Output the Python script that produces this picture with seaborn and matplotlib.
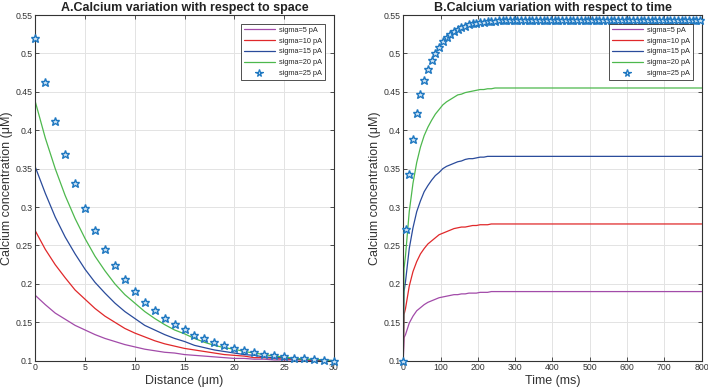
import matplotlib
matplotlib.use("Agg")
import matplotlib.pyplot as plt
import numpy as np
import pandas as pd
import seaborn as sns
from matplotlib.ticker import FuncFormatter, MultipleLocator
from matplotlib.lines import Line2D

# ---------------- data ----------------
labels = ["sigma=5 pA", "sigma=10 pA", "sigma=15 pA", "sigma=20 pA", "sigma=25 pA"]
colors = ["#A24BA9", "#E0282A", "#2A4B9B", "#4DB84D", "#1F78C1"]

# Panel A: calcium vs distance (um)
distance = list(range(0, 31))
space_s5 = [0.185, 0.173, 0.162, 0.154, 0.146, 0.140, 0.134, 0.129, 0.125, 0.121,
            0.118, 0.115, 0.113, 0.111, 0.110, 0.108, 0.107, 0.106, 0.105, 0.104,
            0.103, 0.103, 0.102, 0.102, 0.101, 0.101, 0.101, 0.101, 0.100, 0.100, 0.100]
space_s10 = [0.269, 0.245, 0.225, 0.208, 0.192, 0.180, 0.168, 0.158, 0.150, 0.142,
             0.136, 0.131, 0.126, 0.122, 0.119, 0.116, 0.114, 0.112, 0.110, 0.108,
             0.107, 0.106, 0.104, 0.104, 0.103, 0.102, 0.102, 0.101, 0.101, 0.100, 0.100]
space_s15 = [0.352, 0.318, 0.287, 0.261, 0.239, 0.219, 0.202, 0.188, 0.175, 0.164,
             0.155, 0.146, 0.140, 0.134, 0.129, 0.125, 0.120, 0.117, 0.114, 0.112,
             0.110, 0.108, 0.107, 0.105, 0.104, 0.104, 0.102, 0.102, 0.101, 0.101, 0.100]
space_s20 = [0.437, 0.390, 0.350, 0.315, 0.285, 0.259, 0.236, 0.217, 0.200, 0.186,
             0.175, 0.164, 0.155, 0.147, 0.140, 0.135, 0.129, 0.124, 0.120, 0.117,
             0.115, 0.112, 0.110, 0.108, 0.106, 0.105, 0.103, 0.102, 0.102, 0.101, 0.100]
space_s25 = [0.520, 0.463, 0.412, 0.369, 0.331, 0.299, 0.270, 0.246, 0.225, 0.206,
             0.191, 0.177, 0.166, 0.156, 0.148, 0.141, 0.134, 0.129, 0.124, 0.120,
             0.117, 0.114, 0.111, 0.109, 0.107, 0.106, 0.104, 0.103, 0.102, 0.101, 0.100]

# Panel B: calcium vs time (ms)
time_line = [0, 2, 6, 16, 26, 36, 46, 56, 66, 76, 86, 96, 106, 116, 126, 136, 146,
             156, 166, 176, 186, 196, 206, 216, 226, 236, 246, 256, 800]
time_s5 = [0.100, 0.130, 0.134, 0.149, 0.158, 0.165, 0.169, 0.173, 0.176, 0.178, 0.180,
           0.182, 0.183, 0.184, 0.185, 0.186, 0.186, 0.187, 0.187, 0.188, 0.188,
           0.188, 0.189, 0.189, 0.189, 0.190, 0.190, 0.190, 0.190]
time_s10 = [0.100, 0.160, 0.168, 0.197, 0.216, 0.229, 0.239, 0.246, 0.252, 0.256, 0.260,
            0.264, 0.266, 0.268, 0.270, 0.272, 0.273, 0.274, 0.274, 0.275, 0.276,
            0.276, 0.277, 0.277, 0.277, 0.278, 0.278, 0.278, 0.278]
time_s15 = [0.100, 0.190, 0.203, 0.246, 0.273, 0.294, 0.308, 0.320, 0.328, 0.335, 0.341,
            0.345, 0.350, 0.353, 0.355, 0.357, 0.359, 0.360, 0.362, 0.363, 0.363,
            0.364, 0.365, 0.365, 0.366, 0.366, 0.366, 0.366, 0.366]
time_s20 = [0.100, 0.220, 0.237, 0.294, 0.331, 0.358, 0.378, 0.393, 0.404, 0.413, 0.421,
            0.427, 0.433, 0.437, 0.440, 0.443, 0.446, 0.447, 0.449, 0.450, 0.451,
            0.452, 0.453, 0.453, 0.454, 0.454, 0.455, 0.455, 0.455]
time_star = [0] + list(range(6, 800, 10))
time_s25 = [0.100, 0.271, 0.343, 0.389, 0.423, 0.447, 0.466, 0.480, 0.491, 0.501,
            0.509, 0.516, 0.521, 0.525, 0.529, 0.532, 0.534, 0.536, 0.538, 0.539,
            0.540, 0.541, 0.541, 0.542, 0.542, 0.542, 0.543, 0.543, 0.543, 0.543,
            0.543, 0.543, 0.543, 0.543, 0.543, 0.543, 0.543, 0.543, 0.543, 0.543,
            0.543, 0.543, 0.543, 0.543, 0.543, 0.543, 0.543, 0.543, 0.543, 0.543,
            0.543, 0.543, 0.543, 0.543, 0.543, 0.543, 0.543, 0.543, 0.543, 0.543,
            0.543, 0.543, 0.543, 0.543, 0.543, 0.543, 0.543, 0.543, 0.543, 0.543,
            0.543, 0.543, 0.543, 0.543, 0.543, 0.543, 0.543, 0.543, 0.543, 0.543,
            0.543]

# ---------------- style ----------------
sns.set_theme(style="whitegrid")
plt.rcParams["font.family"] = ["Liberation Sans", "DejaVu Sans"]

fig = plt.figure(figsize=(7.08, 3.92), dpi=100)
axA = fig.add_axes([0.0499, 0.0798, 0.4215, 0.8819])
axB = fig.add_axes([0.5696, 0.0798, 0.4215, 0.8819])

edge = "#333333"
star_kw = dict(marker="*", linestyle="none", markersize=6.3, markerfacecolor="#CFE3F3",
               markeredgecolor=colors[4], markeredgewidth=1.0, color=colors[4],
               clip_on=False, zorder=4)

# Panel A
for vals, col in zip([space_s5, space_s10, space_s15, space_s20], colors[:4]):
    sns.lineplot(x=distance, y=vals, ax=axA, color=col, linewidth=0.9,
                 errorbar=None, legend=False)
sns.lineplot(x=distance, y=space_s25, ax=axA, errorbar=None, legend=False, **star_kw)

# Panel B
for vals, col in zip([time_s5, time_s10, time_s15, time_s20], colors[:4]):
    sns.lineplot(x=time_line, y=vals, ax=axB, color=col, linewidth=0.9,
                 errorbar=None, legend=False)
sns.lineplot(x=time_star, y=time_s25, ax=axB, errorbar=None, legend=False, **star_kw)

fmt = FuncFormatter(lambda v, _: f"{v:g}")
for ax, xmax, step, title, xlabel in [
    (axA, 30, 5, "A.Calcium variation with respect to space", "Distance (\u03bcm)"),
    (axB, 800, 100, "B.Calcium variation with respect to time", "Time (ms)"),
]:
    ax.set_xlim(0, xmax)
    ax.set_ylim(0.1, 0.55)
    ax.xaxis.set_major_locator(MultipleLocator(step))
    ax.yaxis.set_major_locator(MultipleLocator(0.05))
    ax.yaxis.set_major_formatter(fmt)
    ax.xaxis.set_major_formatter(fmt)
    ax.set_facecolor("white")
    ax.grid(True, color="#E3E3E3", linewidth=0.7)
    for s in ax.spines.values():
        s.set_visible(True)
        s.set_color(edge)
        s.set_linewidth(0.8)
    ax.tick_params(axis="both", which="both", direction="in", length=3, width=0.6,
                   colors=edge, labelcolor="#333333", labelsize=6.3, pad=2,
                   top=True, right=True, bottom=True, left=True)
    ax.set_title(title, fontsize=9, fontweight="bold", pad=3, color="#222222")
    ax.set_xlabel(xlabel, fontsize=9, labelpad=2, color="#333333")
    ax.set_ylabel("Calcium concentration (\u03bcM)", fontsize=9, labelpad=2, color="#333333")

    handles = [Line2D([0], [0], color=c, linewidth=0.9) for c in colors[:4]]
    handles.append(Line2D([0], [0], marker="*", linestyle="none", markersize=5.5,
                          markerfacecolor="#CFE3F3", markeredgecolor=colors[4],
                          markeredgewidth=0.9))
    leg = ax.legend(handles, labels, loc="upper right",
                    bbox_to_anchor=(0.971, 0.975), borderaxespad=0,
                    fontsize=5.3, handlelength=4.2, handletextpad=0.6,
                    labelspacing=0.5, borderpad=0.4, fancybox=False,
                    framealpha=1, edgecolor=edge)
    leg.get_frame().set_linewidth(0.6)
    leg.set_zorder(10)

fig.savefig("out.png", dpi=100)
